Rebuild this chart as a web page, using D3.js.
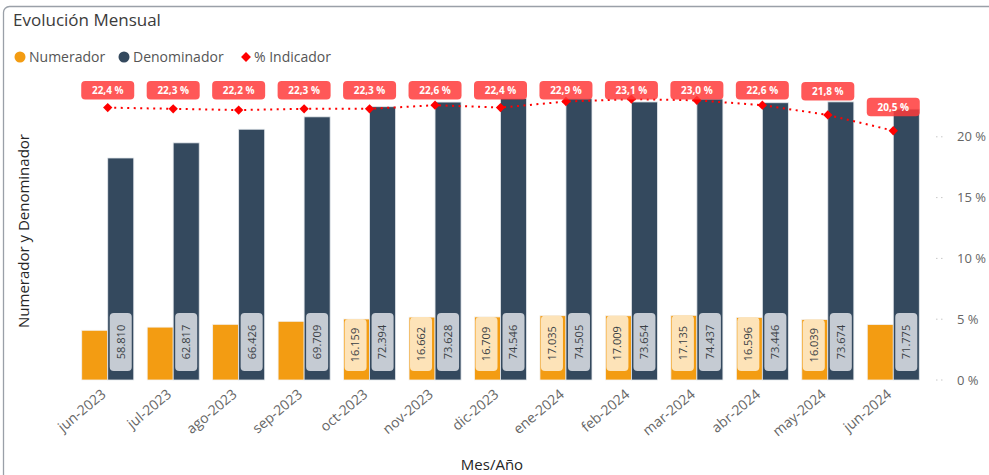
<!DOCTYPE html>
<html>
<head>
<meta charset="utf-8">
<script src="https://cdn.jsdelivr.net/npm/d3@7"></script>
<style>
  body { margin: 0; background: #fff; }
  text { font-family: "Open Sans", "Noto Sans", sans-serif; }
</style>
</head>
<body>
<svg id="visualization" width="989" height="475"></svg>
<script>
// Data
const months = ["jun-2023", "jul-2023", "ago-2023", "sep-2023", "oct-2023", "nov-2023", "dic-2023",
  "ene-2024", "feb-2024", "mar-2024", "abr-2024", "may-2024", "jun-2024"];
const numerador = [13170, 14010, 14750, 15550, 16159, 16662, 16709, 17035, 17009, 17135, 16596, 16039, 14710];
const denominador = [58810, 62817, 66426, 69709, 72394, 73628, 74546, 74505, 73654, 74437, 73446, 73674, 71775];
const indicador = [0.224, 0.223, 0.222, 0.223, 0.223, 0.226, 0.224, 0.229, 0.231, 0.230, 0.226, 0.218, 0.205];
const pctTicks = [0, 0.05, 0.10, 0.15, 0.20];

function scene() {
  const svg = d3.select("#visualization");
  svg.selectAll("*").remove();

  const es = d3.formatLocale({ decimal: ",", thousands: ".", grouping: [3], currency: ["", " €"] });
  const fmtNum = es.format(",d");
  const fmtPct = d => es.format(".1f")(d * 100) + " %";

  const orange = "#F39C12";
  const navy = "#34495E";
  const baseY = 380;

  const data = months.map((m, i) => ({
    month: m,
    num: numerador[i],
    den: denominador[i],
    pct: indicador[i]
  }));

  // Scales
  const x = d3.scaleBand()
    .domain(months)
    .range([75, 926])
    .paddingInner(0.205)
    .paddingOuter(0.1025);

  const x1 = d3.scaleBand()
    .domain(["num", "den"])
    .range([0, x.bandwidth()]);

  const y = d3.scaleLinear().domain([0, 80000]).range([baseY, 78]);
  const yPct = d3.scaleLinear().domain([0, 0.25]).range([baseY, 76]);

  // Frame
  svg.append("rect")
    .attr("x", 3.5).attr("y", 6.5)
    .attr("width", 1000).attr("height", 500)
    .attr("rx", 6)
    .attr("fill", "none")
    .attr("stroke", "#9aa0a8")
    .attr("stroke-width", 1.3);

  // Title
  svg.append("text")
    .attr("x", 13).attr("y", 26)
    .attr("fill", "#3b3b3b")
    .style("font-size", "17px")
    .text("Evolución Mensual");

  // Legend
  const legend = svg.append("g").attr("transform", "translate(0,57)");
  legend.append("circle").attr("cx", 20).attr("cy", 0).attr("r", 5.5).attr("fill", orange);
  legend.append("text").attr("x", 29).attr("y", 5).attr("fill", "#555").style("font-size", "14px").text("Numerador");
  legend.append("circle").attr("cx", 124).attr("cy", 0).attr("r", 5.5).attr("fill", navy);
  legend.append("text").attr("x", 133).attr("y", 5).attr("fill", "#555").style("font-size", "14px").text("Denominador");
  legend.append("rect").attr("x", -3.5).attr("y", -3.5).attr("width", 7).attr("height", 7)
    .attr("fill", "#ff0000").attr("transform", "translate(246,0) rotate(45)");
  legend.append("text").attr("x", 254).attr("y", 5).attr("fill", "#555").style("font-size", "14px").text("% Indicador");

  // Bars
  const groups = svg.append("g").selectAll("g")
    .data(data)
    .join("g")
    .attr("transform", d => `translate(${x(d.month)},0)`);

  groups.append("rect")
    .attr("x", x1("num"))
    .attr("y", d => y(d.num))
    .attr("width", x1.bandwidth())
    .attr("height", d => baseY - y(d.num))
    .attr("fill", orange)
    .attr("stroke", "#f3f3f3")
    .attr("stroke-width", 0.8);

  groups.append("rect")
    .attr("x", x1("den"))
    .attr("y", d => y(d.den))
    .attr("width", x1.bandwidth())
    .attr("height", d => baseY - y(d.den))
    .attr("fill", navy)
    .attr("stroke", "#e4e8ec")
    .attr("stroke-width", 0.8);

  // Bar data labels (inside base, rotated)
  const boxTop = 313, boxBottom = 371;
  const labelW = x1.bandwidth() - 4;

  groups.append("rect")
    .attr("x", x1("den") + 2)
    .attr("y", boxTop)
    .attr("width", labelW)
    .attr("height", boxBottom - boxTop)
    .attr("rx", 4)
    .attr("fill", "#c5cbd3");

  groups.append("text")
    .attr("transform", `translate(${x1("den") + x1.bandwidth() / 2},${(boxTop + boxBottom) / 2}) rotate(-90)`)
    .attr("text-anchor", "middle")
    .attr("dy", "0.35em")
    .attr("fill", "#3a3f45")
    .style("font-size", "11px")
    .text(d => fmtNum(d.den));

  // numerator label only where the bar is tall enough
  const numLab = groups.filter(d => baseY - y(d.num) >= 59.5);

  numLab.append("rect")
    .attr("x", x1("num") + 1)
    .attr("y", d => Math.max(boxTop, y(d.num)))
    .attr("width", labelW)
    .attr("height", d => boxBottom - Math.max(boxTop, y(d.num)))
    .attr("rx", 4)
    .attr("fill", "#fde3b8");

  numLab.append("text")
    .attr("transform", d => `translate(${x1("num") + 1 + labelW / 2},${(Math.max(boxTop, y(d.num)) + boxBottom) / 2}) rotate(-90)`)
    .attr("text-anchor", "middle")
    .attr("dy", "0.35em")
    .attr("fill", "#3a3f45")
    .style("font-size", "11px")
    .text(d => fmtNum(d.num));

  // X axis labels
  const cx = d => x(d) + x.bandwidth() / 2;
  svg.append("g").selectAll("text")
    .data(months)
    .join("text")
    .attr("transform", d => `translate(${cx(d) - 4},${baseY + 12}) rotate(-40)`)
    .attr("text-anchor", "end")
    .attr("dy", "0.35em")
    .attr("fill", "#666")
    .style("font-size", "14px")
    .text(d => d);

  svg.append("text")
    .attr("x", 492).attr("y", 470)
    .attr("text-anchor", "middle")
    .attr("fill", "#252525")
    .style("font-size", "15px")
    .text("Mes/Año");

  svg.append("text")
    .attr("transform", "translate(29,231) rotate(-90)")
    .attr("text-anchor", "middle")
    .attr("fill", "#252525")
    .style("font-size", "15px")
    .text("Numerador y Denominador");

  // Right axis
  const right = svg.append("g");
  right.selectAll("line")
    .data(pctTicks)
    .join("line")
    .attr("x1", 936).attr("x2", 946)
    .attr("y1", d => yPct(d)).attr("y2", d => yPct(d))
    .attr("stroke", "#c8c8c8")
    .attr("stroke-dasharray", "1.5,3.5");
  right.selectAll("text")
    .data(pctTicks)
    .join("text")
    .attr("x", 957)
    .attr("y", d => yPct(d))
    .attr("dy", "0.35em")
    .attr("fill", "#666")
    .style("font-size", "13px")
    .text(d => Math.round(d * 100) + " %");

  // Indicator line
  const line = d3.line()
    .x(d => cx(d.month))
    .y(d => yPct(d.pct));

  svg.append("path")
    .datum(data)
    .attr("fill", "none")
    .attr("stroke", "#ff0000")
    .attr("stroke-width", 2)
    .attr("stroke-dasharray", "2,4.5")
    .attr("d", line);

  svg.append("g").selectAll("rect")
    .data(data)
    .join("rect")
    .attr("x", -3.3).attr("y", -3.3)
    .attr("width", 6.6).attr("height", 6.6)
    .attr("fill", "#ff0000")
    .attr("transform", d => `translate(${cx(d.month)},${yPct(d.pct)}) rotate(45)`);

  // Indicator labels
  const lab = svg.append("g").selectAll("g")
    .data(data)
    .join("g")
    .attr("transform", d => `translate(${cx(d.month)},${Math.max(81, yPct(d.pct) - 33)})`);

  lab.append("rect")
    .attr("x", -26.5).attr("y", 0)
    .attr("width", 53).attr("height", 18.5)
    .attr("rx", 4)
    .attr("fill", "#ff3b3b")
    .attr("opacity", 0.85);

  lab.append("text")
    .attr("y", 9.5)
    .attr("dy", "0.35em")
    .attr("text-anchor", "middle")
    .attr("fill", "#fff")
    .style("font-size", "10px")
    .style("font-weight", "bold")
    .text(d => fmtPct(d.pct));
}

scene();
</script>
</body>
</html>
